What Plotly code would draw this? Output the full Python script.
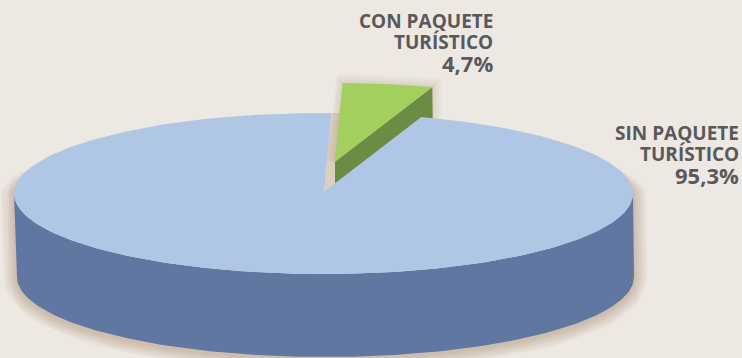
import numpy as np
import plotly.graph_objects as go

# Data
label_lines = [["SIN PAQUETE", "TURÍSTICO"], ["CON PAQUETE", "TURÍSTICO"]]
value_text = ["95,3%", "4,7%"]
shares = [95.3, 4.7]

# Styles
BG = "#ede8e2"
BLUE_TOP, BLUE_SIDE = "#afc6e5", "#5f77a1"
GREEN_TOP, GREEN_SIDE = "#a2cf5e", "#6c8b43"
TEXT = "#58595b"
GAP = "#dccfc0"

# Geometry of the drawing
CX, CY, RX, RY = 323.5, 193.5, 309.5, 80.5
BX, BY, BRX, BRY = 325.5, 277.0, 308.5, 80.0
APEX = (324.0, 191.7)
EXPLODE = (11.0, -30.0)
DEPTH = 83.0
START = 1.5


def ell(t, cx=CX, cy=CY, rx=RX, ry=RY):
    r = np.radians(t)
    return cx + rx * np.sin(r), cy - ry * np.cos(r)


def poly(xs, ys, fill):
    return go.Scatter(x=list(xs), y=list(ys), mode="lines", fill="toself", fillcolor=fill,
                      line=dict(width=0, color=fill), hoverinfo="skip", showlegend=False)


def stroke(xs, ys, width, alpha):
    return go.Scatter(x=list(xs), y=list(ys), mode="lines",
                      line=dict(width=width, color=f"rgba(150,115,70,{alpha})"),
                      hoverinfo="skip", showlegend=False)


sweep = shares[1] / sum(shares) * 360
end = START + sweep

# Blue top (everything but the detached slice)
tb = np.linspace(end, START + 360, 240)
bx, by = ell(tb)
blue_x = np.r_[APEX[0], bx, APEX[0]]
blue_y = np.r_[APEX[1], by, APEX[1]]

# Gap left by the slice
tg = np.linspace(START, end, 24)
gx, gy = ell(tg)
gap_x = np.r_[APEX[0], gx, APEX[0]]
gap_y = np.r_[APEX[1], gy, APEX[1]]

# Blue wall
tf = np.linspace(90, 270, 160)
fx, fy = ell(tf, BX, BY, BRX, BRY)
tt = np.linspace(270, 90, 160)
ux, uy = ell(tt)
wall_x = np.r_[fx, ux, fx[0]]
wall_y = np.r_[fy, uy, fy[0]]

# Green slice
ox, oy = ell(tg)
gr_ax, gr_ay = APEX[0] + EXPLODE[0], APEX[1] + EXPLODE[1]
green_x = np.r_[gr_ax, ox + EXPLODE[0], gr_ax]
green_y = np.r_[gr_ay, oy + EXPLODE[1], gr_ay]
rx_, ry_ = ox[-1] + EXPLODE[0], oy[-1] + EXPLODE[1]
gs_x = [gr_ax, rx_, rx_ + 1, gr_ax, gr_ax]
gs_y = [gr_ay, ry_, ry_ + DEPTH, gr_ay + DEPTH, gr_ay]

traces = []
# Soft shadow of the pie: wider strokes stop lower on the sides, so it fades out
for w in (26, 22, 18, 14, 10, 6, 3):
    reach = 4 + (26 - w) * 0.7
    r_tx, r_ty = ell(np.linspace(90 - reach, 90, 16))
    l_tx, l_ty = ell(np.linspace(270, 270 + reach, 16))
    traces.append(stroke(np.r_[r_tx, fx, l_tx], np.r_[r_ty, fy, l_ty] + 2, w, 0.055))

traces.append(poly(gap_x, gap_y, GAP))
shadow_x = np.r_[green_x[:-1], rx_, rx_, green_x[0]]
shadow_y = np.r_[green_y[:-1], ry_ + 30, ry_ + 30, green_y[0]]
for w in (18, 14, 10, 6, 3):
    traces.append(stroke(shadow_x, shadow_y, w, 0.035))
traces.append(poly(gs_x, gs_y, GREEN_SIDE))
traces.append(poly(green_x, green_y, GREEN_TOP))
traces.append(poly(wall_x, wall_y, BLUE_SIDE))
traces.append(poly(blue_x, blue_y, BLUE_TOP))

fig = go.Figure(traces)

FONT = "Open Sans"
LAB = 19
annotations = []
positions = [(741, [133, 154, 175]), (495, [21, 42, 63])]
for lines, val, (xr, ys) in zip(label_lines, value_text, positions):
    for txt, y in zip(lines, ys):
        annotations.append(dict(x=xr, y=y, text=txt, showarrow=False, xanchor="right", yanchor="middle",
                                xref="x", yref="y", font=dict(family=FONT, size=LAB, color=TEXT, weight=700)))
    annotations.append(dict(x=xr, y=ys[2], text=val, showarrow=False, xanchor="right", yanchor="middle",
                            xref="x", yref="y", font=dict(family=FONT, size=22, color=TEXT, weight=700)))

fig.update_layout(
    width=742, height=358, margin=dict(l=0, r=0, t=0, b=0),
    paper_bgcolor=BG, plot_bgcolor=BG, showlegend=False,
    xaxis=dict(range=[0, 742], visible=False, fixedrange=True),
    yaxis=dict(range=[358, 0], visible=False, fixedrange=True),
    annotations=annotations,
)
fig.write_html("out.html", config=dict(displayModeBar=False),
               post_script="document.body.style.margin='0';document.body.style.overflow='hidden';"
                           "document.documentElement.style.background='" + BG + "';")
